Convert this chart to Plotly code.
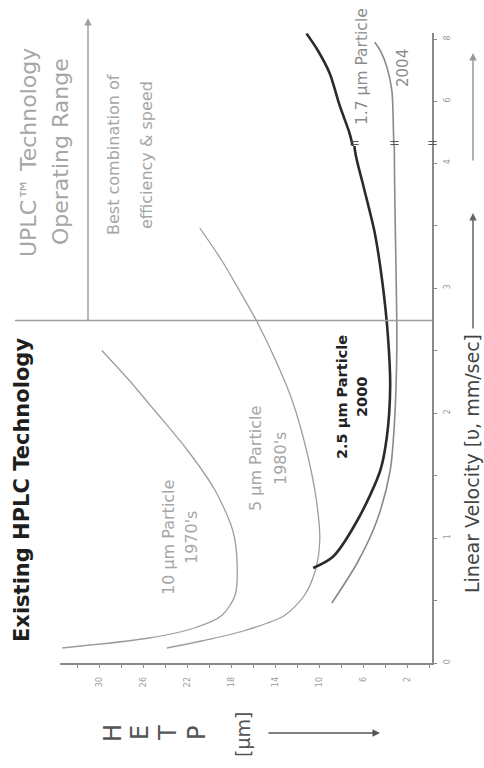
import numpy as np
import plotly.graph_objects as go

# ---------------- data ----------------
# 10 um particle, 1970's   (velocity mm/s, HETP um)
v10 = [0.12, 0.20, 0.28, 0.38, 0.54, 0.78, 1.06, 1.38, 1.70, 2.02, 2.26, 2.50]
h10 = [33.4, 25.5, 21.4, 18.9, 17.7, 17.5, 17.9, 19.5, 22.0, 25.0, 27.3, 29.8]
# 5 um particle, 1980's
v5 = [0.12, 0.18, 0.26, 0.38, 0.54, 0.74, 0.98, 1.30, 1.70, 2.10, 2.42, 2.73, 2.98, 3.22, 3.48]
h5 = [23.9, 20.5, 16.8, 13.2, 11.4, 10.4, 10.0, 10.3, 11.2, 12.5, 14.0, 15.7, 17.3, 18.9, 20.9]
# 2.5 um particle, 2000
v25 = [0.76, 0.85, 1.17, 1.54, 1.81, 2.21, 2.61, 3.04, 3.44, 3.84, 4.10, 4.55, 4.97, 5.87, 6.90, 7.65, 8.18]
h25 = [10.6, 8.8, 6.4, 4.5, 3.9, 3.6, 3.8, 4.3, 5.0, 6.1, 6.8, 7.0, 7.3, 8.2, 9.1, 10.2, 11.2]
# 1.7 um particle, 2004
v17 = [0.48, 0.80, 1.14, 1.54, 1.94, 2.48, 2.74, 3.30, 3.86, 4.97, 5.70, 6.35, 7.10, 7.60, 7.90]
h17 = [8.9, 6.6, 4.8, 3.6, 3.2, 3.0, 3.0, 3.1, 3.2, 3.3, 3.35, 3.45, 3.9, 4.45, 5.0]

uplc_start_velocity = 2.74          # divider between HPLC and UPLC ranges
hetp_ticks = [2, 6, 10, 14, 18, 22, 26, 30]
vel_ticks_low = [0, 1, 2, 3, 4]
vel_ticks_high = [6, 8]

# ---------------- layout helpers ----------------
W, H = 484, 768
PL, PR, PT, PB = 60, 432, 33, 663     # plot box in page pixels
L, R, T, B = PL, W - PR, PT, H - PB
PW, PH = PR - PL, PB - PT
BREAK_PIX = 146
split = (PB - BREAK_PIX) / PH
low_range = [0, 4.136]
high_range = [4.55, 8.2]

def px(x):
    return (x - PL) / PW

def py(y):
    return (PB - y) / PH

FONT = "'DejaVu Sans', sans-serif"
GRAY = "#8c8c8c"
LGRAY = "#a6a6a6"

fig = go.Figure()

def part(vv, hh, lo, hi):
    idx = [i for i, v in enumerate(vv) if lo <= v <= hi]
    i0, i1 = idx[0], idx[-1]
    if vv[i0] > lo + 1e-9 and i0 > 0:
        i0 -= 1
    if vv[i1] < hi - 1e-9 and i1 < len(vv) - 1:
        i1 += 1
    return hh[i0:i1 + 1], vv[i0:i1 + 1]

curves = [
    (v10, h10, "#9d9d9d", 1.3),
    (v5, h5, "#9d9d9d", 1.3),
    (v17, h17, "#8a8a8a", 1.6),
    (v25, h25, "#2b2b2b", 2.6),
]
for vv, hh, col, w in curves:
    for ya, (lo, hi) in (("y", low_range), ("y2", high_range)):
        if max(vv) < lo:
            continue
        xs, ys = part(vv, hh, lo, hi)
        fig.add_trace(go.Scatter(x=xs, y=ys, mode="lines", xaxis="x", yaxis=ya,
                                 line=dict(color=col, width=w, shape="spline", smoothing=0.8),
                                 showlegend=False, hoverinfo="skip"))

axis_common = dict(showline=True, linecolor="#8a8a8a", linewidth=1.5, showgrid=False,
                   zeroline=False, ticks="outside", ticklen=3, tickcolor="#8a8a8a",
                   tickangle=-90, tickfont=dict(size=8, color="#999", family=FONT))

fig.update_layout(
    width=W, height=H, autosize=False,
    margin=dict(l=L, r=R, t=T, b=B),
    paper_bgcolor="white", plot_bgcolor="white",
    font=dict(family=FONT),
    xaxis=dict(domain=[0, 1], range=[33.6, -0.2], anchor="y", tickvals=hetp_ticks,
               ticklabelstandoff=6,
               minor=dict(dtick=2, tick0=0, ticks="outside", ticklen=3, tickcolor="#8a8a8a"),
               **axis_common),
    yaxis=dict(domain=[0, split], range=low_range, anchor="x", side="right",
               tickvals=vel_ticks_low, ticklabelstandoff=4,
               minor=dict(dtick=0.5, tick0=0, ticks="outside", ticklen=3, tickcolor="#8a8a8a"),
               **axis_common),
    yaxis2=dict(domain=[split, 1], range=high_range, anchor="x", side="right",
                tickvals=vel_ticks_high, ticklabelstandoff=4, **axis_common),
)

# divider line between HPLC and UPLC operating ranges
fig.add_shape(type="line", xref="paper", yref="y", x0=px(15), x1=1,
              y0=uplc_start_velocity, y1=uplc_start_velocity,
              line=dict(color="#9d9d9d", width=1.5))

ann = []

def text(x, y, s, size, color, bold=False):
    ann.append(dict(xref="paper", yref="paper", x=px(x), y=py(y),
                    text=("<b>%s</b>" % s) if bold else s, showarrow=False,
                    textangle=-90, font=dict(size=size, color=color, family=FONT),
                    xanchor="center", yanchor="middle"))

def arrow(x, y, ax, ay, color, width=1.5):
    ann.append(dict(xref="paper", yref="paper", x=px(x), y=py(y), text="",
                    showarrow=True, ax=ax, ay=ay, arrowhead=2, arrowsize=1,
                    arrowwidth=width, arrowcolor=color))

text(22, 490, "Existing HPLC Technology", 21, "#1e1e1e", bold=True)
text(28, 153, "UPLC™ Technology", 22, LGRAY)
text(60, 152, "Operating Range", 22, LGRAY)
text(113, 155, "Best combination of", 16, LGRAY)
text(146, 155, "efficiency &amp; speed", 16, LGRAY)
text(168, 538, "10 µm Particle", 16, LGRAY)
text(191, 538, "1970's", 16, LGRAY)
text(255, 459, "5 µm Particle", 16, LGRAY)
text(280, 459, "1980's", 16, LGRAY)
text(342, 397, "2.5 µm Particle", 14.5, "#222", bold=True)
text(362, 397, "2000", 14.5, "#222", bold=True)
text(362, 67, "1.7 µm Particle", 15.5, GRAY)
text(403, 68, "2004", 15, GRAY)
text(472, 463, "Linear Velocity [υ, mm/sec]", 19, "#444")
for lx, letter in zip([113, 140, 168, 197], ["H", "E", "T", "P"]):
    text(lx, 733, letter, 24, "#555")
text(243, 735, "[µm]", 19, "#555")

arrow(88, 18, 0, 304, "#a0a0a0")
arrow(473, 213, 0, 117, "#666")
arrow(473, 53, 0, 109, "#999")
arrow(380, 733, -113, 0, "#555")

# break marks on the broken velocity axis and on the curves crossing it
brk = dict(showarrow=False, xanchor="center", yanchor="middle", yshift=4,
           font=dict(size=13, color="#555", family=FONT), text="=")
for hh, vv in ((h25, v25), (h17, v17)):
    xb = float(np.interp(low_range[1], vv, hh))
    ann.append(dict(xref="x", yref="paper", x=xb, y=split, **brk))
ann.append(dict(xref="paper", yref="paper", x=1, y=split, **brk))

fig.update_layout(annotations=ann)
fig.write_html("out.html", config={"displayModeBar": False},
               post_script="document.body.style.margin='0px';"
                           "document.body.style.overflow='hidden';")
